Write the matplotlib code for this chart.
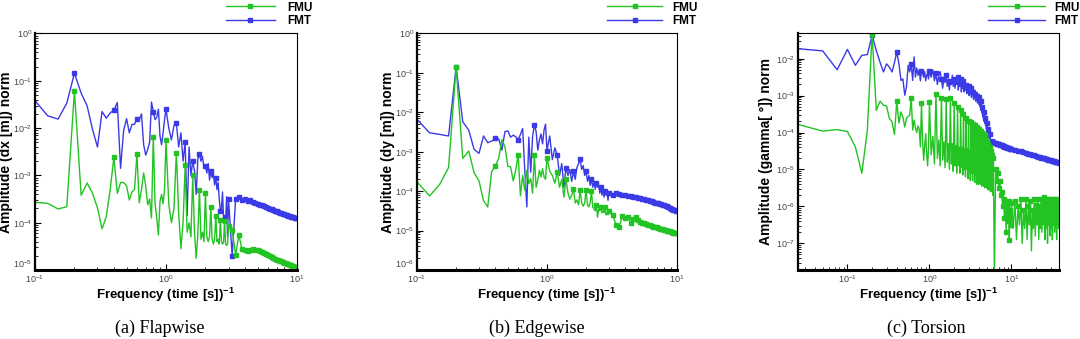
import numpy as np
import matplotlib
matplotlib.use("Agg")
import matplotlib.pyplot as plt
from matplotlib.ticker import LogLocator, NullFormatter

plt.rcParams['font.family'] = ['Liberation Sans', 'DejaVu Sans']
plt.rcParams['mathtext.fontset'] = 'custom'
plt.rcParams['mathtext.rm'] = 'Liberation Sans'
plt.rcParams['mathtext.bf'] = 'Liberation Sans:bold'

# FFT bins: 0.025 Hz spacing at low frequency, coarser where the spectra are smooth
freq_ab = np.concatenate([np.arange(0.1, 1.0001, 0.025),
                          np.arange(1.05, 3.0001, 0.05),
                          np.arange(3.2, 10.0001, 0.2)])
freq_c = np.concatenate([np.arange(0.025, 1.0001, 0.025),
                         np.arange(1.05, 6.0001, 0.05),
                         np.arange(6.2, 10.0001, 0.2),
                         np.arange(10.5, 38.0001, 0.5)])

# amplitudes as log10 values
fmu_flap = [-3.57, -3.59, -3.71, -3.66, -1.22, -3.42, -3.16, -3.38, -3.69, -4.13,
            -3.87, -3.30, -2.62, -3.38, -3.15, -3.15, -3.22, -3.52, -3.35, -3.30,
            -2.55, -3.58, -3.30, -2.95, -3.22, -3.62, -3.50, -3.90, -2.18, -3.58,
            -3.90, -4.26, -3.55, -3.40, -3.60, -3.30, -2.26,
            -3.60, -4.00, -3.70, -2.52, -3.80, -4.55, -4.00, -2.79, -4.20, -4.00,
            -4.30, -3.00, -4.20, -4.75, -4.25, -3.30, -4.35, -4.20, -4.40, -3.37,
            -4.30, -4.40, -4.30, -3.67, -4.35, -4.45, -4.35, -3.85, -4.40, -4.35,
            -4.45, -3.95, -4.40, -4.45, -4.42, -3.96, -4.45, -4.48, -4.45, -4.08,
            -4.15, -4.68, -4.26, -4.55, -4.58, -4.60, -4.57, -4.56, -4.57, -4.58,
            -4.60, -4.62, -4.63, -4.66, -4.68, -4.70, -4.72, -4.74, -4.76, -4.78,
            -4.79, -4.81, -4.82, -4.84, -4.85, -4.86, -4.87, -4.88, -4.89, -4.90,
            -4.91, -4.92, -4.93, -4.93, -4.94]
fmt_flap = [-1.42, -1.74, -1.81, -1.47, -0.84, -1.26, -1.53, -2.03, -2.40, -1.65,
            -1.79, -1.68, -1.62, -1.46, -2.85, -2.05, -1.80, -2.10, -1.92, -1.92,
            -1.80, -1.82, -1.70, -2.35, -2.57, -2.45, -2.30, -1.45, -1.65, -1.82,
            -1.77, -1.60, -2.17, -2.35, -2.10, -1.82, -1.60,
            -2.00, -2.25, -1.95, -1.90, -2.40, -2.10, -2.70, -2.30, -3.85, -2.40,
            -3.00, -2.70, -2.90, -3.40, -2.65, -2.55, -2.70, -2.60, -2.85, -2.80,
            -2.95, -2.75, -3.10, -2.90, -3.05, -2.95, -3.20, -3.05, -3.30, -3.15,
            -3.50, -3.76, -3.70, -3.35, -3.90, -3.87, -4.00, -3.45, -4.30, -3.50,
            -4.70, -3.50, -3.45, -3.52, -3.50, -3.55, -3.53, -3.56, -3.58, -3.60,
            -3.62, -3.63, -3.65, -3.67, -3.69, -3.70, -3.72, -3.73, -3.75, -3.76,
            -3.78, -3.79, -3.80, -3.81, -3.82, -3.83, -3.84, -3.85, -3.86, -3.87,
            -3.88, -3.88, -3.89, -3.90, -3.91]

fmu_edge = [-3.76, -4.12, -3.82, -3.40, -0.85, -3.17, -2.98, -3.53, -3.74, -4.24,
            -4.40, -3.51, -3.36, -3.17, -2.69, -2.87, -3.37, -3.38, -3.74, -3.47,
            -3.07, -4.12, -3.60, -3.98, -3.47, -3.81, -3.68, -4.05, -3.09, -3.90,
            -3.72, -3.47, -3.64, -3.43, -3.64, -3.70, -3.15,
            -3.50, -3.60, -3.80, -3.52, -3.90, -3.70, -4.15, -3.68, -4.05, -4.20,
            -4.10, -3.95, -4.30, -4.22, -4.35, -3.97, -4.30, -4.38, -4.30, -3.97,
            -4.35, -4.40, -4.30, -4.00, -4.40, -4.45, -4.50, -4.35, -4.66, -4.45,
            -4.50, -4.39, -4.55, -4.50, -4.55, -4.40, -4.60, -4.55, -4.60, -4.50,
            -4.60, -4.86, -4.90, -4.62, -4.69, -4.66, -4.80, -4.70, -4.66, -4.72,
            -4.78, -4.80, -4.82, -4.84, -4.86, -4.87, -4.88, -4.90, -4.91, -4.92,
            -4.94, -4.95, -4.96, -4.97, -4.98, -4.99, -5.00, -5.01, -5.02, -5.03,
            -5.04, -5.05, -5.05, -5.06, -5.07]
fmt_edge = [-2.18, -2.52, -2.56, -2.60, -0.85, -2.24, -2.45, -2.94, -3.04, -2.60,
            -2.77, -2.73, -2.66, -2.67, -2.96, -2.49, -2.47, -2.63, -2.58, -2.62,
            -2.70, -2.56, -2.41, -3.47, -4.40, -2.63, -3.52, -2.62, -2.31, -2.49,
            -2.96, -2.70, -2.55, -2.80, -2.45, -2.30, -2.97,
            -2.60, -3.20, -2.90, -3.09, -3.60, -3.30, -3.90, -3.40, -3.60, -3.45,
            -3.75, -3.50, -3.70, -3.40, -3.30, -3.19, -3.45, -3.35, -3.60, -3.50,
            -3.75, -3.60, -3.85, -3.70, -3.90, -3.75, -3.95, -3.80, -3.90, -3.85,
            -4.05, -3.90, -4.10, -3.95, -4.15, -4.00, -4.10, -4.05, -4.23, -4.05,
            -4.10, -4.05, -4.08, -4.10, -4.10, -4.12, -4.13, -4.15, -4.16, -4.17,
            -4.18, -4.20, -4.21, -4.22, -4.23, -4.24, -4.26, -4.27, -4.29, -4.30,
            -4.31, -4.32, -4.33, -4.34, -4.35, -4.37, -4.38, -4.40, -4.42, -4.44,
            -4.45, -4.47, -4.48, -4.50, -4.51]

fmu_tors = [-3.78, -3.96, -3.92, -3.97, -4.39, -5.10, -3.94, -1.32, -3.40, -3.15,
            -3.26, -3.28, -3.62, -3.71, -4.05, -3.15, -3.74, -3.44, -3.58, -3.85,
            -3.62, -3.56, -3.53, -3.07, -3.93, -3.66, -3.87, -4.00, -3.82, -3.90,
            -4.39, -3.20, -4.22, -4.75, -4.35, -4.03, -4.57, -4.90, -4.40, -3.17,
            -4.60, -4.10, -4.85, -2.95, -4.70, -4.20, -4.90, -3.06,
            -4.75, -4.25, -4.95, -3.10, -4.80, -4.30, -5.00, -3.06,
            -4.85, -4.30, -5.05, -3.20, -4.90, -4.35, -5.10, -3.30,
            -4.90, -4.40, -5.10, -3.40, -4.95, -4.40, -5.15, -3.50,
            -5.00, -4.45, -5.20, -3.60, -5.00, -4.45, -5.25, -3.70,
            -5.05, -4.50, -5.30, -3.72, -5.10, -4.50, -5.30, -3.76,
            -5.10, -4.55, -5.35, -3.80, -5.15, -4.55, -5.40, -3.85,
            -5.20, -4.60, -5.40, -3.90,
            -5.20, -4.60, -5.40, -3.95, -5.25, -4.65, -5.45, -4.00,
            -5.25, -4.65, -5.45, -4.05, -5.30, -4.70, -5.50, -4.10,
            -5.30, -4.70, -5.50, -4.20, -5.35, -4.75, -5.55, -4.30,
            -5.35, -4.75, -5.55, -4.40, -5.40, -4.80, -5.60, -4.50,
            -5.40, -4.85, -5.60, -4.60, -5.50, -4.90, -5.70, -4.70,
            -7.90, -5.00, -5.30, -5.10, -5.50, -5.30, -5.70, -5.60, -6.00, -5.80,
            -6.30, -5.85, -6.70, -6.00, -6.40, -5.85, -6.90, -6.10, -6.50, -5.90,
            -6.60, -5.85, -6.90, -6.00, -6.50, -5.80, -7.00, -6.10, -6.60, -5.80,
            -6.90, -6.00, -6.50, -5.85, -7.20, -6.10, -6.60, -5.80, -6.80, -5.95,
            -6.50, -5.80, -6.90, -6.00, -6.60, -5.80, -6.70, -5.90, -6.50, -5.75,
            -6.90, -6.00, -6.60, -5.80, -7.00, -5.90, -6.50, -5.80, -6.80, -6.00,
            -6.60, -5.80, -6.90, -5.90, -6.50, -5.80, -6.70, -6.00, -6.60, -5.80,
            -6.90, -5.90, -6.50, -5.85, -6.60, -6.00]
fmt_tors = [-1.73, -1.79, -2.30, -1.75, -2.18, -1.91, -1.89, -1.37, -1.78, -2.10,
            -2.36, -2.14, -2.23, -2.36, -2.10, -1.82, -2.14, -2.59, -2.55, -2.99,
            -2.76, -2.18, -2.36, -2.15, -2.59, -1.95, -2.50, -2.25, -2.45, -2.30,
            -2.60, -2.33, -2.40, -2.50, -2.35, -2.60, -2.45, -2.40, -2.55, -2.33,
            -2.50, -2.30, -2.60, -2.40, -2.70, -2.45, -2.35, -2.55,
            -2.80, -2.50, -2.65, -2.45, -2.75, -2.55, -2.85, -2.60,
            -2.70, -2.45, -2.75, -2.55, -2.80, -2.55, -2.70, -2.50,
            -2.85, -2.60, -2.75, -2.55, -2.90, -2.65, -2.80, -2.60,
            -2.90, -2.65, -2.85, -2.70, -2.95, -2.70, -2.90, -2.75,
            -3.00, -2.80, -2.95, -2.80, -3.05, -2.85, -3.00, -2.90,
            -3.10, -2.90, -3.05, -2.95, -3.15, -2.95, -3.10, -3.00,
            -3.20, -3.00, -3.15, -3.05,
            -3.25, -3.05, -3.30, -3.15, -3.40, -3.20, -3.45, -3.30,
            -3.55, -3.35, -3.60, -3.45, -3.70, -3.50, -3.75, -3.60,
            -3.80, -3.65, -3.90, -3.75, -3.95, -3.85, -4.00, -3.90,
            -4.10, -4.00, -4.15, -4.05, -4.25, -4.10, -4.55, -4.83,
            -4.25, -4.20, -4.30, -4.22, -4.30, -4.24, -4.30, -4.26,
            -4.28, -4.29, -4.30, -4.31, -4.32, -4.33, -4.34, -4.35, -4.36, -4.37,
            -4.38, -4.39, -4.40, -4.41, -4.42, -4.42, -4.43, -4.44, -4.44, -4.45,
            -4.46, -4.47, -4.48, -4.49, -4.50, -4.51, -4.52, -4.53, -4.54, -4.55,
            -4.56, -4.57, -4.58, -4.59, -4.60, -4.60, -4.61, -4.62, -4.63, -4.63,
            -4.64, -4.65, -4.66, -4.66, -4.67, -4.68, -4.68, -4.69, -4.70, -4.70,
            -4.71, -4.71, -4.72, -4.72, -4.73, -4.73, -4.74, -4.74, -4.75, -4.75,
            -4.76, -4.76, -4.77, -4.77, -4.78, -4.78, -4.78, -4.79, -4.79, -4.80,
            -4.80, -4.80, -4.81, -4.81, -4.81, -4.82]

ylabels = ['Amplitude (dx [m]) norm', 'Amplitude (dy [m]) norm', 'Amplitude (gamma[ °]) norm']
captions = ['(a) Flapwise', '(b) Edgewise', '(c) Torsion']

GREEN = '#22c322'
BLUE = '#3a3ae6'

fig = plt.figure(figsize=(10.8, 3.39), dpi=100)

panels = [
    dict(rect=[0.0324, 0.2035, 0.2426, 0.6977], f=freq_ab, fmu=fmu_flap, fmt=fmt_flap,
         xlim=(0.1, 10), ylim=(1e-5, 1), ylab_x=-0.083, leg=(0.729, 4.15, 1.0), cap_x=0.148),
    dict(rect=[0.3861, 0.2035, 0.2407, 0.6977], f=freq_ab, fmu=fmu_edge, fmt=fmt_edge,
         xlim=(0.1, 10), ylim=(1e-6, 1), ylab_x=-0.085, leg=(0.731, 4.66, 0.85), cap_x=0.497),
    dict(rect=[0.7389, 0.2035, 0.2417, 0.6977], f=freq_c, fmu=fmu_tors, fmt=fmt_tors,
         xlim=(0.025, 38), ylim=(1.9e-8, 4.8e-2), ylab_x=-0.095, leg=(0.728, 4.83, 0.76), cap_x=0.858),
]

for i, p in enumerate(panels):
    ax = fig.add_axes(p['rect'])
    f = p['f']
    harm = list(np.isclose(f / 0.2, np.round(f / 0.2)))
    ax.plot(f, 10 ** np.array(p['fmt']), color=BLUE, lw=1.0, marker='s', ms=3.4,
            markevery=harm, label='FMT')
    ax.plot(f, 10 ** np.array(p['fmu']), color=GREEN, lw=1.0, marker='s', ms=3.4,
            markevery=harm, label='FMU')
    ax.set_xscale('log')
    ax.set_yscale('log')
    ax.set_xlim(*p['xlim'])
    ax.set_ylim(*p['ylim'])

    for a in (ax.xaxis, ax.yaxis):
        a.set_major_locator(LogLocator(base=10, numticks=20))
        a.set_minor_locator(LogLocator(base=10, subs=np.arange(2, 10), numticks=20))
        a.set_minor_formatter(NullFormatter())
    ax.tick_params(which='both', direction='in', top=False, right=False,
                   labelsize=6.5, labelcolor='#444444')
    ax.tick_params(axis='x', which='both', pad=2.5)
    ax.tick_params(axis='y', which='both', pad=2)
    ax.tick_params(which='major', length=4, width=0.8)
    ax.tick_params(which='minor', length=2.2, width=0.6)

    # lift the corner y label a little so it clears the first x label
    for t, lab in zip(ax.get_yticks(), ax.get_yticklabels()):
        if np.isclose(t, p['ylim'][0]):
            lab.set_verticalalignment('bottom')

    ax.spines['bottom'].set_linewidth(2.2)
    ax.spines['left'].set_linewidth(1.6)
    ax.spines['top'].set_linewidth(0.8)
    ax.spines['right'].set_linewidth(0.8)

    ax.set_xlabel(r'Frequency (time [s])$^{\mathbf{-1}}$', fontsize=9.5, fontweight='bold')
    ax.xaxis.set_label_coords(0.5, -0.066)
    ax.set_ylabel(ylabels[i], fontsize=10, fontweight='bold')
    ax.yaxis.set_label_coords(p['ylab_x'], 0.5)

    x0, hl, hp = p['leg']
    h, l = ax.get_legend_handles_labels()
    ax.legend(h[::-1], l[::-1], loc='upper left', bbox_to_anchor=(x0, 1.135),
              frameon=False, borderpad=0, borderaxespad=0, numpoints=1,
              handlelength=hl, handletextpad=hp, labelspacing=0.1,
              prop={'weight': 'bold', 'size': 8.5})

    fig.text(p['cap_x'], 1 - 328 / 339, captions[i], ha='center', va='center',
             fontsize=13, family='Liberation Serif')

fig.savefig('out.png', dpi=100)
